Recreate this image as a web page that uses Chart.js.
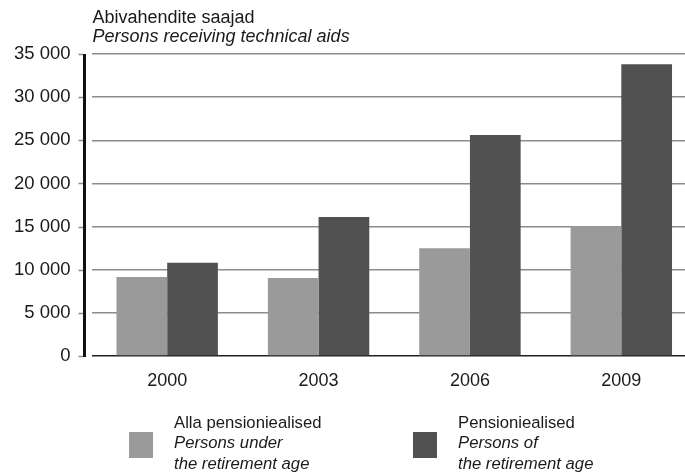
<!DOCTYPE html>
<html>
<head>
<meta charset="utf-8">
<script src="https://cdn.jsdelivr.net/npm/chart.js@4"></script>
<style>
html, body { margin: 0; padding: 0; overflow: hidden; background: #fff; }
#wrap { position: relative; width: 685px; height: 476px; overflow: hidden; }
canvas { display: block; }
</style>
</head>
<body>
<div id="wrap"><canvas id="c" width="697" height="476"></canvas></div>
<script>
// ---- data ----
const categories = ['2000', '2003', '2006', '2009'];
const underRetirement = [9150, 9050, 12500, 15050];
const ofRetirement = [10800, 16100, 25600, 33800];
const yTickLabels = ['0', '5 000', '10 000', '15 000', '20 000', '25 000', '30 000', '35 000'];
const titleLines = ['Abivahendite saajad', 'Persons receiving technical aids'];
const legendUnder = ['Alla pensioniealised', 'Persons under', 'the retirement age'];
const legendOf = ['Pensioniealised', 'Persons of', 'the retirement age'];

const FONT = '"Liberation Sans", Arial, sans-serif';
const TEXT = '#1a1a1a';
const LIGHT = '#9a9a9a';
const DARK = '#515151';

const decor = {
  id: 'decor',
  afterDraw(chart) {
    const ctx = chart.ctx;
    const y = chart.scales.y;
    const area = chart.chartArea;
    ctx.save();
    // tick marks
    ctx.strokeStyle = '#8c8c8c';
    ctx.lineWidth = 1.5;
    y.ticks.forEach(t => {
      const py = Math.round(y.getPixelForValue(t.value)) + 0.5;
      ctx.beginPath();
      ctx.moveTo(area.left - 13, py);
      ctx.lineTo(area.left - 8, py);
      ctx.stroke();
    });
    // axis line
    ctx.strokeStyle = '#111';
    ctx.lineWidth = 3;
    ctx.beginPath();
    const ax = area.left - 7;
    ctx.moveTo(ax, y.getPixelForValue(y.max));
    ctx.lineTo(ax, y.getPixelForValue(0) + 1);
    ctx.stroke();
    // title
    ctx.fillStyle = TEXT;
    ctx.textBaseline = 'middle';
    ctx.textAlign = 'left';
    ctx.font = '18px ' + FONT;
    ctx.fillText(titleLines[0], area.left + 1, 18);
    ctx.font = 'italic 18px ' + FONT;
    ctx.fillText(titleLines[1], area.left + 1, 37);
    // legend
    const items = [
      { lines: legendUnder, color: chart.data.datasets[0].backgroundColor, sx: 129, tx: 174 },
      { lines: legendOf, color: chart.data.datasets[1].backgroundColor, sx: 413, tx: 458 }
    ];
    items.forEach(it => {
      ctx.fillStyle = it.color;
      ctx.fillRect(it.sx, 432, 24, 26);
      ctx.fillStyle = TEXT;
      const ys = [423, 443, 464];
      it.lines.forEach((l, i) => {
        ctx.font = (i === 0 ? '' : 'italic ') + '16.7px ' + FONT;
        ctx.fillText(l, it.tx, ys[i]);
      });
    });
    ctx.restore();
  }
};

new Chart(document.getElementById('c'), {
  type: 'bar',
  data: {
    labels: categories,
    datasets: [
      { label: legendUnder.join(' '), data: underRetirement, backgroundColor: LIGHT, borderWidth: 0 },
      { label: legendOf.join(' '), data: ofRetirement, backgroundColor: DARK, borderWidth: 0 }
    ]
  },
  options: {
    responsive: false,
    animation: false,
    devicePixelRatio: 1,
    layout: { padding: { top: 54, left: 0, right: 0, bottom: 0 } },
    plugins: { legend: { display: false }, title: { display: false }, tooltip: { enabled: false } },
    datasets: { bar: { categoryPercentage: 0.67, barPercentage: 1.0 } },
    scales: {
      x: {
        type: 'category',
        offset: true,
        grid: { display: false, drawTicks: false, tickLength: 0 },
        border: { display: false },
        ticks: { color: TEXT, font: { family: FONT, size: 18 }, padding: 14, maxRotation: 0 },
        afterFit(scale) { scale.height = 120; }
      },
      y: {
        min: 0,
        max: 35000,
        ticks: {
          stepSize: 5000,
          color: TEXT,
          font: { family: FONT, size: 18.5 },
          padding: 21,
          callback: (v, i) => yTickLabels[i]
        },
        grid: {
          drawTicks: false,
          tickLength: 0,
          lineWidth: 1.5,
          color: ctx => ctx.tick && ctx.tick.value === 0 ? '#222' : '#8c8c8c'
        },
        border: { display: false },
        afterFit(scale) { scale.width = 91.5; }
      }
    }
  },
  plugins: [decor]
});
</script>
</body>
</html>
